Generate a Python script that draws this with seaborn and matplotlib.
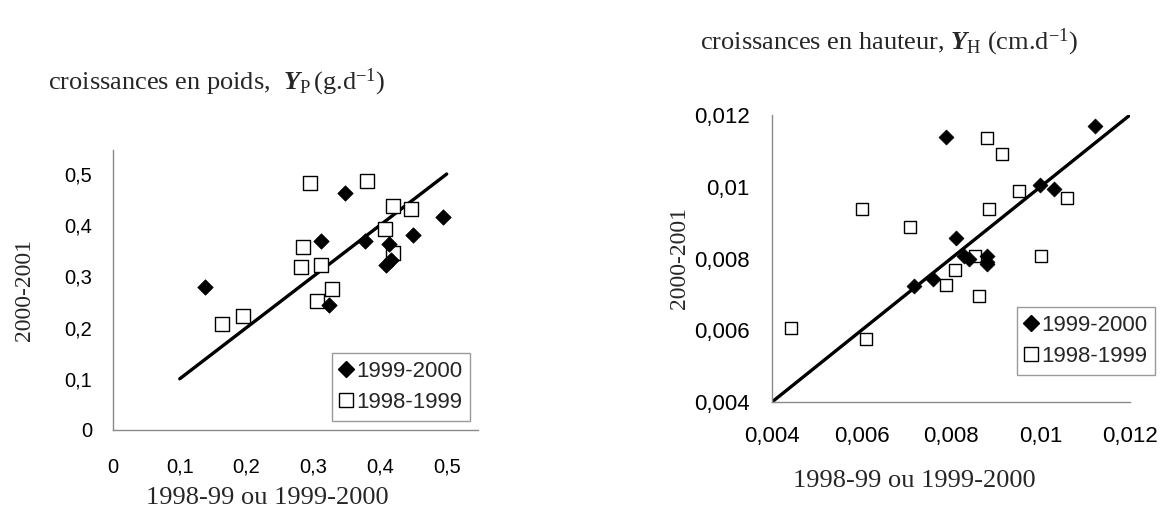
import matplotlib
matplotlib.use("Agg")
import matplotlib.pyplot as plt
import seaborn as sns
from matplotlib.lines import Line2D
from matplotlib.ticker import FixedLocator, FixedFormatter

# ---- weight growth Y_P (g/d): x = earlier season, y = 2000-2001 ----
poids_9900_x = [0.138, 0.311, 0.348, 0.378, 0.413, 0.409, 0.416, 0.449, 0.495, 0.323]
poids_9900_y = [0.280, 0.370, 0.462, 0.370, 0.363, 0.322, 0.332, 0.380, 0.417, 0.245]
poids_9899_x = [0.164, 0.195, 0.295, 0.381, 0.284, 0.281, 0.311, 0.305, 0.328,
                0.420, 0.446, 0.408, 0.420]
poids_9899_y = [0.207, 0.222, 0.482, 0.486, 0.357, 0.318, 0.323, 0.252, 0.276,
                0.437, 0.432, 0.393, 0.345]
poids_line = [0.1, 0.5]

# ---- height growth Y_H (cm/d) ----
haut_9900_x = [0.01122, 0.00789, 0.0100, 0.0103, 0.00811, 0.0083, 0.0084,
               0.00881, 0.0088, 0.0088, 0.00718, 0.00759]
haut_9900_y = [0.0117, 0.01139, 0.01006, 0.00995, 0.00856, 0.00806, 0.0080,
               0.00807, 0.00784, 0.0079, 0.00722, 0.00742]
haut_9899_x = [0.00442, 0.00611, 0.00602, 0.00709, 0.00789, 0.0081, 0.00854,
               0.00863, 0.00881, 0.00913, 0.00884, 0.00952, 0.01002, 0.01059]
haut_9899_y = [0.00606, 0.00576, 0.00937, 0.00889, 0.00726, 0.00767, 0.00807,
               0.00696, 0.01136, 0.01092, 0.00937, 0.00988, 0.00807, 0.0097]
haut_line = [0.004, 0.012]

# ---- tick values and labels ----
poids_ticks = [0, 0.1, 0.2, 0.3, 0.4, 0.5]
poids_ticklabels = ["0", "0,1", "0,2", "0,3", "0,4", "0,5"]
haut_ticks = [0.004, 0.006, 0.008, 0.010, 0.012]
haut_ticklabels = ["0,004", "0,006", "0,008", "0,01", "0,012"]

series_labels = ["1999-2000", "1998-1999"]
title_poids = r"croissances en poids,  $Y_{\mathrm{P}}\,$(g.d$^{\mathrm{-1}}$)"
title_haut = r"croissances en hauteur, $Y_{\mathrm{H}}$ (cm.d$^{\mathrm{-1}}$)"
xlabel = "1998-99 ou 1999-2000"
ylabel = "2000-2001"

sns.set_style("white")
plt.rcParams.update({
    "font.family": ["Liberation Sans", "DejaVu Sans"],
    "mathtext.fontset": "custom",
    "mathtext.rm": "Liberation Serif",
    "mathtext.it": "Liberation Serif:italic:bold",
    "mathtext.bf": "Liberation Serif:bold",
})

SERIF = ["Liberation Serif", "DejaVu Serif"]
AXIS_GREY = "#8a8a8a"

fig = plt.figure(figsize=(11.64, 5.17), dpi=100)
ax1 = fig.add_axes([0.0971, 0.1683, 0.3136, 0.5416])
ax2 = fig.add_axes([0.6632, 0.2224, 0.3076, 0.5552])


def draw_panel(ax, xf, yf, xo, yo, line, lim, ticks, ticklabels,
               sq_size, dia_size, tick_fs, xpad, ypad):
    sns.lineplot(x=line, y=line, color="black", linewidth=2.4, ax=ax,
                 zorder=2)
    sns.scatterplot(x=xo, y=yo, marker="s", s=sq_size, facecolor="white",
                    edgecolor="black", linewidth=1.0, ax=ax, zorder=3,
                    clip_on=False)
    sns.scatterplot(x=xf, y=yf, marker="D", s=dia_size, color="black",
                    edgecolor="black", linewidth=0.5, ax=ax, zorder=4,
                    clip_on=False)
    ax.set_xlim(*lim)
    ax.set_ylim(*lim)
    for axis in (ax.xaxis, ax.yaxis):
        axis.set_major_locator(FixedLocator(ticks))
        axis.set_major_formatter(FixedFormatter(ticklabels))
    ax.tick_params(axis="both", direction="out", length=4, width=1,
                   color=AXIS_GREY, labelsize=tick_fs, labelcolor="black")
    ax.tick_params(axis="x", pad=xpad)
    ax.tick_params(axis="y", pad=ypad)
    for side in ("top", "right"):
        ax.spines[side].set_visible(False)
    for side in ("left", "bottom"):
        ax.spines[side].set_color(AXIS_GREY)
        ax.spines[side].set_linewidth(1.0)
    ax.set_xlabel("")
    ax.set_ylabel("")
    ax.set_facecolor("white")


draw_panel(ax1, poids_9900_x, poids_9900_y, poids_9899_x, poids_9899_y,
           poids_line, (0, 0.547), poids_ticks, poids_ticklabels,
           sq_size=100, dia_size=62, tick_fs=14.5, xpad=16, ypad=11)
draw_panel(ax2, haut_9900_x, haut_9900_y, haut_9899_x, haut_9899_y,
           haut_line, (0.004, 0.012), haut_ticks, haut_ticklabels,
           sq_size=85, dia_size=58, tick_fs=16, xpad=13, ypad=12)


def add_legend(ax, anchor):
    handles = [
        Line2D([], [], linestyle="none", marker="D", markersize=8.5,
               markerfacecolor="black", markeredgecolor="black"),
        Line2D([], [], linestyle="none", marker="s", markersize=9.5,
               markerfacecolor="white", markeredgecolor="black",
               markeredgewidth=1.0),
    ]
    leg = ax.legend(handles, series_labels, loc="upper left",
                    bbox_to_anchor=anchor, bbox_transform=fig.transFigure,
                    borderaxespad=0, fancybox=False, framealpha=1,
                    edgecolor="#9a9a9a", fontsize=16, handlelength=0.6,
                    handletextpad=0.15, borderpad=0.35, labelspacing=0.45)
    leg.get_frame().set_linewidth(1.0)
    return leg


add_legend(ax1, (332 / 1164, 1 - 353 / 517))
add_legend(ax2, (1017 / 1164, 1 - 307 / 517))

# panel headings
fig.text(48 / 1164, 1 - 82 / 517, title_poids, family=SERIF, fontsize=19,
         ha="left", va="center")
fig.text(700 / 1164, 1 - 42 / 517, title_haut, family=SERIF, fontsize=19,
         ha="left", va="center")

# axis titles
fig.text(267 / 1164, 1 - 498 / 517, xlabel, family=SERIF, fontsize=19,
         ha="center", va="center")
fig.text(914 / 1164, 1 - 481 / 517, xlabel, family=SERIF, fontsize=19,
         ha="center", va="center")
fig.text(25 / 1164, 1 - 290 / 517, ylabel, family=SERIF, fontsize=17,
         ha="center", va="center", rotation=90)
fig.text(679 / 1164, 1 - 258 / 517, ylabel, family=SERIF, fontsize=17,
         ha="center", va="center", rotation=90)

fig.savefig("out.png", dpi=100, facecolor="white")
